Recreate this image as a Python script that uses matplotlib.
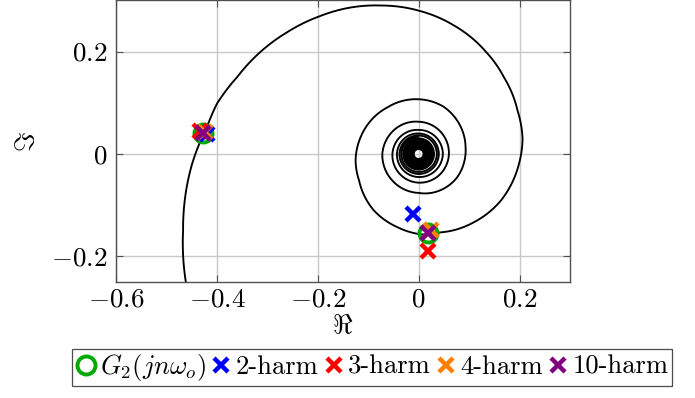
import numpy as np
import matplotlib
matplotlib.use("Agg")
import matplotlib.pyplot as plt
from matplotlib.patches import Circle, PathPatch
from matplotlib.path import Path
from matplotlib.projections.polar import PolarTransform

plt.rcParams['font.family'] = 'cmr10'
plt.rcParams['mathtext.fontset'] = 'cm'
plt.rcParams['axes.formatter.use_mathtext'] = True

# Nyquist locus of G2(jw), from low to high frequency (clockwise spiral)
spiral_re = [-0.457, -0.462, -0.467, -0.462, -0.449, -0.436, -0.416, -0.400,
             -0.360, -0.313, -0.262, -0.199, -0.141, -0.075, 0.000, 0.070,
             0.133, 0.169, 0.196, 0.206, 0.199, 0.163, 0.110, 0.044,
             0.005, -0.042, -0.089, -0.118, -0.125, -0.115, -0.095, -0.062,
             -0.003, 0.050, 0.083, 0.093, 0.076, 0.045, 0.000, -0.052,
             -0.072, 0.000, 0.060, 0.000,
             -0.052, 0.000, 0.048, 0.000,
             -0.043, 0.000, 0.040, 0.000,
             -0.038, 0.000, 0.036, 0.000,
             -0.034, 0.000]
spiral_im = [-0.270, -0.247, -0.150, -0.078, -0.019, 0.017, 0.062, 0.098,
             0.150, 0.200, 0.237, 0.268, 0.285, 0.290, 0.280, 0.251,
             0.200, 0.150, 0.085, 0.030, -0.019, -0.091, -0.133, -0.153,
             -0.157, -0.143, -0.110, -0.052, -0.013, 0.033, 0.065, 0.091,
             0.107, 0.092, 0.054, 0.014, -0.046, -0.070, -0.076, -0.052,
             0.000, 0.063, 0.000, -0.056,
             0.000, 0.047, 0.000, -0.045,
             0.000, 0.040, 0.000, -0.039,
             0.000, 0.036, 0.000, -0.035,
             0.000, 0.033]
# tightly wound high-frequency turns around the origin
core_radii = [0.0305, 0.0285, 0.0265, 0.0245, 0.0225, 0.0205, 0.0185, 0.0165,
              0.0145, 0.0125, 0.011, 0.0097]

g2_re = [-0.427, 0.019]
g2_im = [0.041, -0.154]
h2_re = [-0.420, -0.012]
h2_im = [0.040, -0.117]
h3_re = [-0.434, 0.018]
h3_im = [0.045, -0.190]
h4_re = [-0.424, 0.025]
h4_im = [0.043, -0.148]
h10_re = [-0.427, 0.018]
h10_im = [0.041, -0.155]

fig = plt.figure(figsize=(6.95, 3.98), dpi=100)
ax = fig.add_axes([0.1669, 0.2915, 0.6532, 0.7075])

# draw the spiral in (angle, radius) so segments follow the winding
re = np.array(spiral_re)
im = np.array(spiral_im)
theta = np.unwrap(np.arctan2(im, re))
radius = np.hypot(re, im)
spiral = Path(np.column_stack([theta, radius]), _interpolation_steps=40)
ax.add_patch(PathPatch(spiral, fill=False, ec='black', lw=1.35, zorder=2,
                       transform=PolarTransform(apply_theta_transforms=False) + ax.transData))
for r in core_radii:
    ax.add_patch(Circle((0.0, 0.0), r, fill=False, ec='black', lw=1.35, zorder=2))

ax.plot(g2_re, g2_im, 'o', ls='none', mfc='none', mec='#00aa00', ms=13, mew=2.8,
        label=r'$G_2(jn\omega_o)$', zorder=3)
ax.plot(h2_re, h2_im, 'x', ls='none', color='blue', ms=10, mew=3.2, label='2-harm', zorder=4)
ax.plot(h3_re, h3_im, 'x', ls='none', color='red', ms=10, mew=3.2, label='3-harm', zorder=4)
ax.plot(h4_re, h4_im, 'x', ls='none', color='#ff8000', ms=10, mew=3.2, label='4-harm', zorder=4)
ax.plot(h10_re, h10_im, 'x', ls='none', color='purple', ms=10, mew=3.2, label='10-harm', zorder=4)

ax.set_xlim(-0.6, 0.3)
ax.set_ylim(-0.25, 0.3)
ax.set_xticks([-0.6, -0.4, -0.2, 0, 0.2])
ax.set_yticks([-0.2, 0, 0.2])
ax.set_xticklabels(['$-0.6$', '$-0.4$', '$-0.2$', '$0$', '$0.2$'])
ax.set_yticklabels(['$-0.2$', '$0$', '$0.2$'])
ax.grid(True, color='#c8c8c8', lw=1.0, zorder=0)
ax.set_axisbelow(True)
ax.tick_params(direction='in', length=5, width=0.8, color='#505050',
               top=True, right=True, labelsize=19.5)
ax.tick_params(axis='x', pad=4)
ax.tick_params(axis='y', pad=6)
for s in ax.spines.values():
    s.set_color('#505050')
    s.set_linewidth(1.0)

ax.set_xlabel(r'$\Re$', fontsize=19.5, labelpad=2)
ax.set_ylabel(r'$\Im$', fontsize=19.5, labelpad=9)

leg = ax.legend(loc='upper center', bbox_to_anchor=(0.535, 0.124),
                bbox_transform=fig.transFigure, ncol=5, fontsize=19.2,
                frameon=True, fancybox=False, handlelength=0.8,
                handletextpad=0.15, columnspacing=0.15, borderpad=0.12,
                borderaxespad=0)
leg.get_frame().set_edgecolor('#202020')
leg.get_frame().set_linewidth(0.9)

fig.savefig('out.png', dpi=100)
